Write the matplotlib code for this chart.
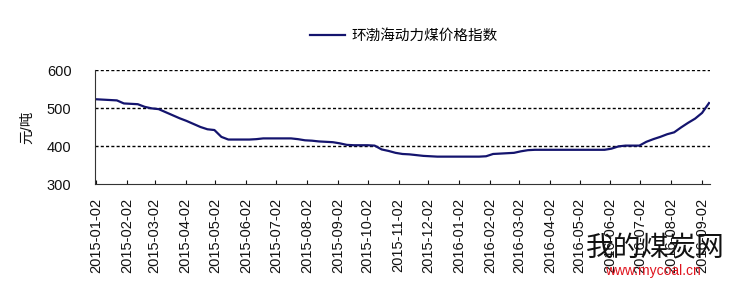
import numpy as np
import pandas as pd
import matplotlib
matplotlib.use("Agg")
import matplotlib.pyplot as plt
import matplotlib.dates as mdates

plt.rcParams['font.family'] = ['Liberation Sans', 'Noto Sans CJK SC']

# weekly index values (元/吨)
start_date = "2015-01-02"
index_values = [
    523, 522, 521, 520, 512, 511, 510, 503, 499, 497,
    489, 481, 473, 466, 458, 450, 444, 442, 424, 417,
    417, 417, 417, 418, 420, 420, 420, 420, 420, 418,
    415, 414, 412, 411, 410, 407, 403, 402, 402, 402,
    401, 391, 387, 382, 379, 378, 376, 374, 373, 372,
    372, 372, 372, 372, 372, 372, 373, 379, 380, 381,
    382, 386, 389, 390, 390, 390, 390, 390, 390, 390,
    390, 390, 390, 390, 393, 399, 401, 401, 401, 411,
    418, 424, 431, 436, 449, 461, 472, 487, 513,
]
dates = pd.date_range(start_date, periods=len(index_values), freq="7D")
tick_dates = pd.date_range("2015-01-01", "2016-09-01", freq="MS") + pd.Timedelta(days=1)
series_name = "环渤海动力煤价格指数"

fig = plt.figure(figsize=(7.37, 2.93), dpi=100)
ax = fig.add_axes([95 / 737, 1 - 184 / 293, 615 / 737, 114 / 293])

line, = ax.plot(dates, index_values, color="#14146e", lw=1.6, label=series_name)

ax.set_ylim(300, 600)
ax.set_yticks([300, 400, 500, 600])
ax.set_xlim(dates[0] - pd.Timedelta(days=1), dates[-1] + pd.Timedelta(days=1))
for v in [400, 500, 600]:
    ax.axhline(v, color="black", lw=1.0, ls=(0, (2.2, 1.6)), zorder=1)

ax.set_xticks(tick_dates)
ax.xaxis.set_major_formatter(mdates.DateFormatter("%Y-%m-%d"))
ax.tick_params(axis="x", direction="in", length=3, width=0.8, labelsize=10.5,
               labelrotation=90, pad=10, colors="#111111")
ax.tick_params(axis="y", length=0, labelsize=10.5, pad=17, colors="#111111")
for lab in ax.get_xticklabels():
    lab.set_verticalalignment("top")

ax.spines["top"].set_visible(False)
ax.spines["right"].set_visible(False)
ax.spines["left"].set_color("#333333")
ax.spines["bottom"].set_color("#333333")
ax.set_ylabel("元/吨", fontsize=10.5, labelpad=9, color="#111111")

fig.legend(handles=[line], loc="center", bbox_to_anchor=(404 / 737, 1 - 36 / 293),
           frameon=False, fontsize=10.5, handlelength=2.4, handletextpad=0.4)

# site watermark
fig.text(655 / 737, 1 - 247 / 293, "我的煤炭网", fontsize=20, ha="center", va="center",
         color="#111111", family=["Noto Sans CJK SC"], zorder=10)
fig.text(653 / 737, 1 - 271 / 293, "www.mycoal.cn", fontsize=10, ha="center", va="center",
         color="#e0141e", zorder=10)

fig.savefig("out.png", dpi=100, facecolor="white")
